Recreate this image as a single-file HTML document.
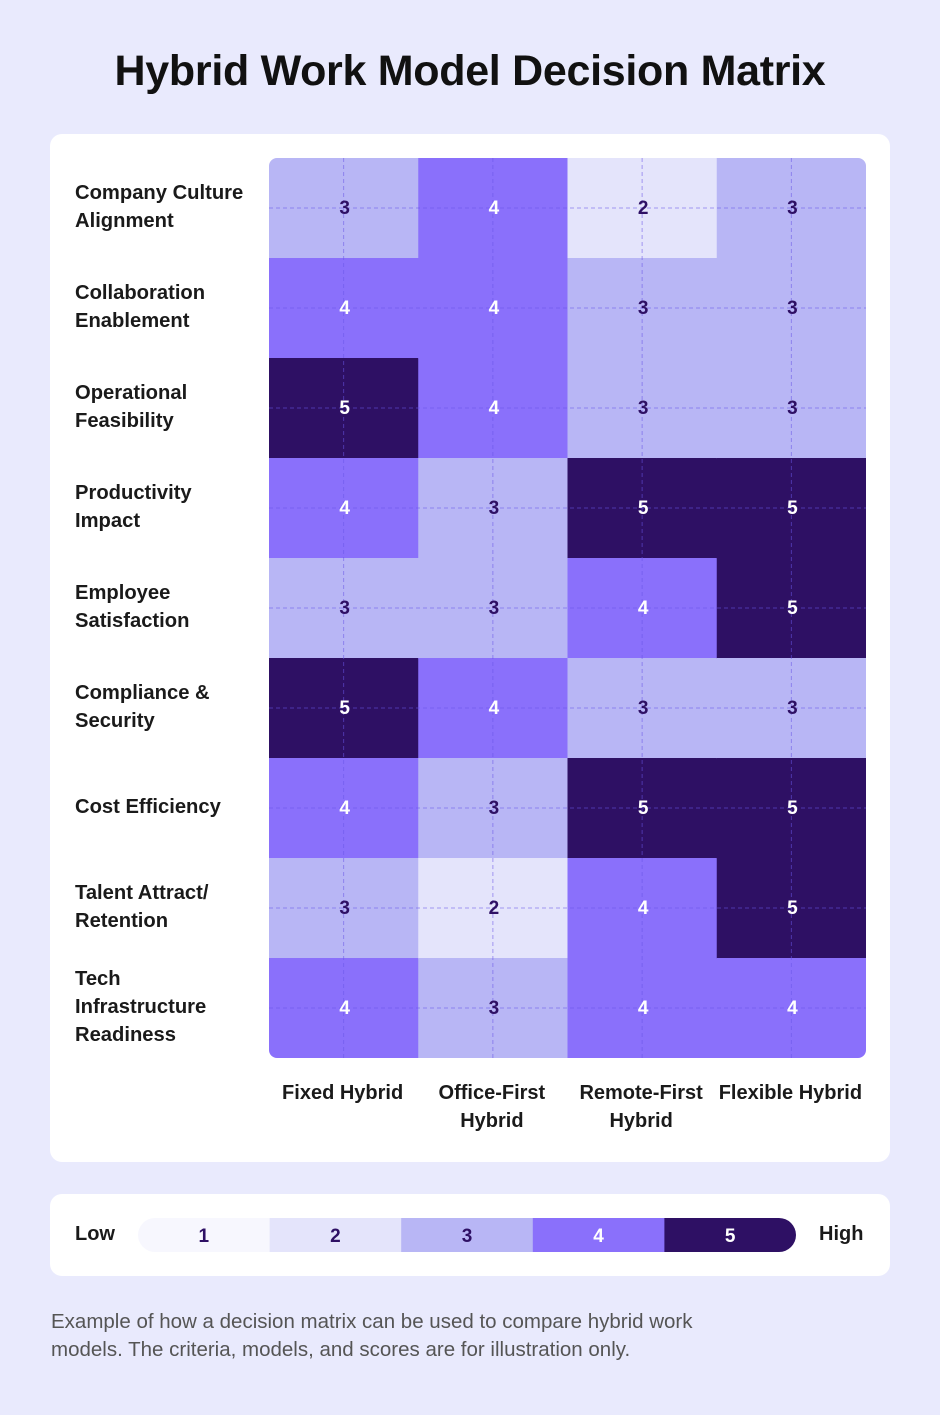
<!DOCTYPE html>
<html><head><meta charset="utf-8"><style>
body{margin:0;width:940px;height:1415px;background:#e9eafd;font-family:"Liberation Sans",sans-serif;position:relative;overflow:hidden}
.abs{position:absolute}
h1{position:absolute;left:0;width:940px;top:47px;margin:0;text-align:center;font-size:43px;font-weight:bold;color:#111;letter-spacing:-0.3px}
.card{position:absolute;background:#fff;border-radius:12px}
.rl{position:absolute;left:75px;font-size:20.2px;font-weight:bold;color:#1a1a1a;line-height:28px}
.cl{position:absolute;font-size:20px;font-weight:bold;color:#1a1a1a;line-height:28px;text-align:center;width:150px}
.foot{position:absolute;left:51px;top:1308px;font-size:20.5px;color:#555;line-height:28px}
</style></head><body>
<h1>Hybrid Work Model Decision Matrix</h1>
<div class="card" style="left:50px;top:134px;width:840px;height:1028px"></div>
<div id="rows"></div>
<svg id="hm" class="abs" style="left:0;top:0" width="940" height="1415"></svg>
<div class="card" style="left:50px;top:1194px;width:840px;height:82px"></div>
<div class="abs" style="left:75px;top:1223px;font-size:20px;font-weight:bold;color:#1a1a1a">Low</div>
<div class="abs" style="left:819px;top:1223px;font-size:20px;font-weight:bold;color:#1a1a1a">High</div>
<svg id="leg" class="abs" style="left:138px;top:1218px" width="658" height="34"></svg>
<div class="foot">Example of how a decision matrix can be used to compare hybrid work<br>models. The criteria, models, and scores are for illustration only.</div>
<script>
const criteria=["Company Culture|Alignment","Collaboration|Enablement","Operational|Feasibility","Productivity|Impact","Employee|Satisfaction","Compliance &|Security","Cost Efficiency","Talent Attract/|Retention","Tech|Infrastructure|Readiness"];
const models=["Fixed Hybrid","Office-First|Hybrid","Remote-First|Hybrid","Flexible Hybrid"];
const fixedHybrid=[3,4,5,4,3,5,4,3,4];
const officeFirst=[4,4,4,3,3,4,3,2,3];
const remoteFirst=[2,3,3,5,4,3,5,4,4];
const flexibleHybrid=[3,3,3,5,5,3,5,5,4];
const legendLevels=[1,2,3,4,5];
const colors={1:"#f7f7fe",2:"#e4e4fb",3:"#b8b6f5",4:"#8a70fb",5:"#2e1064"};
const series=[fixedHybrid,officeFirst,remoteFirst,flexibleHybrid];
const X0=269,Y0=158,W=597,H=900;
const cw=W/models.length, ch=H/criteria.length;
const xs=i=>X0+i*cw, ys=j=>Y0+j*ch;
const NS="http://www.w3.org/2000/svg";
const svg=document.getElementById('hm');
const defs=document.createElementNS(NS,'defs');
defs.innerHTML='<clipPath id="cp"><rect x="'+X0+'" y="'+Y0+'" width="'+W+'" height="'+H+'" rx="8"/></clipPath>';
svg.appendChild(defs);
const g=document.createElementNS(NS,'g');g.setAttribute('clip-path','url(#cp)');svg.appendChild(g);
series.forEach((s,i)=>s.forEach((v,j)=>{
 const r=document.createElementNS(NS,'rect');
 r.setAttribute('x',xs(i));r.setAttribute('y',ys(j));r.setAttribute('width',cw+0.5);r.setAttribute('height',ch+0.5);
 r.setAttribute('fill',colors[v]);
 
 
 g.appendChild(r);
}));
for(let j=0;j<criteria.length;j++){const l=document.createElementNS(NS,'line');l.setAttribute('x1',X0);l.setAttribute('x2',X0+W);l.setAttribute('y1',ys(j)+ch/2);l.setAttribute('y2',ys(j)+ch/2);l.setAttribute('stroke','#6a55e8');l.setAttribute('stroke-opacity','0.55');l.setAttribute('stroke-dasharray','4 3');


g.appendChild(l);}
for(let i=0;i<models.length;i++){const l=document.createElementNS(NS,'line');l.setAttribute('y1',Y0);l.setAttribute('y2',Y0+H);l.setAttribute('x1',xs(i)+cw/2);l.setAttribute('x2',xs(i)+cw/2);l.setAttribute('stroke','#6a55e8');l.setAttribute('stroke-opacity','0.55');l.setAttribute('stroke-dasharray','4 3');


g.appendChild(l);}
series.forEach((s,i)=>s.forEach((v,j)=>{
 const t=document.createElementNS(NS,'text');
 t.setAttribute('x',xs(i)+cw/2+1);t.setAttribute('y',ys(j)+ch/2+6);t.setAttribute('text-anchor','middle');
 t.setAttribute('font-size','19');t.setAttribute('font-weight','bold');t.setAttribute('font-family','Liberation Sans, sans-serif');
 t.setAttribute('fill',v>=4?'#fff':'#2e1064');t.textContent=v;
 
 
 g.appendChild(t);
}));
const rows=document.getElementById('rows');
criteria.forEach((c,j)=>{const d=document.createElement('div');d.className='rl';
 const lines=c.split('|');d.innerHTML=lines.join('<br>');
 d.style.top=(ys(j)+ch/2-lines.length*14-1)+'px';
 
 
 rows.appendChild(d);});
models.forEach((m,i)=>{const d=document.createElement('div');d.className='cl';
 d.innerHTML=m.split('|').join('<br>');d.style.left=(xs(i)+cw/2-76)+'px';d.style.top='1079px';
 
 
 rows.appendChild(d);});
const leg=document.getElementById('leg');
const ld=document.createElementNS(NS,'defs');ld.innerHTML='<clipPath id="lc"><rect x="0" y="0" width="658" height="34" rx="17"/></clipPath>';leg.appendChild(ld);
const lg=document.createElementNS(NS,'g');lg.setAttribute('clip-path','url(#lc)');leg.appendChild(lg);
const sw=658/legendLevels.length;
legendLevels.forEach((v,k)=>{const r=document.createElementNS(NS,'rect');r.setAttribute('x',k*sw);r.setAttribute('y',0);r.setAttribute('width',sw+0.5);r.setAttribute('height',34);r.setAttribute('fill',colors[v]);
 
 
 lg.appendChild(r);
 const t=document.createElementNS(NS,'text');t.setAttribute('x',k*sw+sw/2);t.setAttribute('y',24);t.setAttribute('text-anchor','middle');t.setAttribute('font-size','19');t.setAttribute('font-weight','bold');t.setAttribute('font-family','Liberation Sans, sans-serif');t.setAttribute('fill',v>=4?'#fff':'#2e1064');t.textContent=v;
 
 
 leg.appendChild(t);});
</script>
</body></html>
